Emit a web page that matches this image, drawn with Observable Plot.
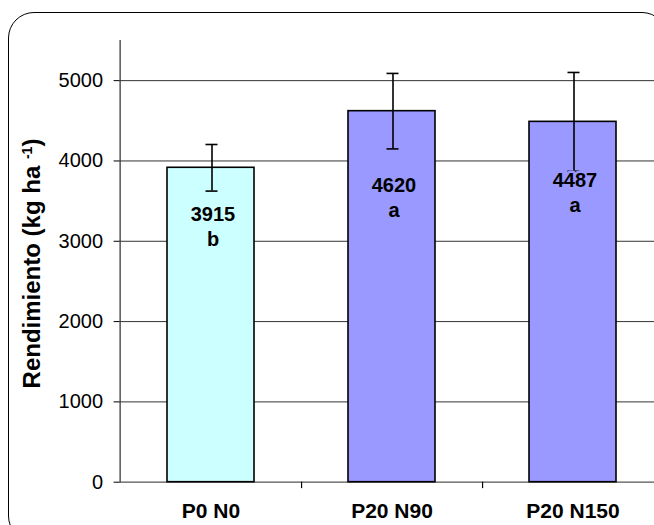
<!DOCTYPE html>
<html><head><meta charset="utf-8">
<script src="https://cdn.jsdelivr.net/npm/d3@7"></script>
<script src="https://cdn.jsdelivr.net/npm/@observablehq/plot@0.6"></script>
<style>
html,body{margin:0;padding:0;background:#fff;overflow:hidden;}
#wrap{position:relative;width:654px;height:525px;overflow:hidden;background:#fff;}
#frame{position:absolute;left:8px;top:12px;width:660px;height:530px;border:1.6px solid #000;border-radius:26px;box-sizing:border-box;}
#chart{position:absolute;left:0;top:0;width:663px;height:525px;}
#chart svg{max-width:none !important;}
</style></head><body>
<div id="wrap"><div id="frame"></div><div id="chart"></div></div>
<script>
// ---- data ----
const categories = ["P0 N0", "P20 N90", "P20 N150"];
const means = [3915, 4620, 4487];
const errors = [290, 470, 615];
const letters = ["b", "a", "a"];
const yTicks = [0, 1000, 2000, 3000, 4000, 5000];
const gridTicks = [1000, 2000, 3000, 4000, 5000];
const yTitle = "Rendimiento (kg ha ";
const yTitleSup = "-1";

const data = categories.map((c, i) => ({cat: c, mean: means[i], err: errors[i], letter: letters[i]}));

// layout
const W = 663, H = 525, mL = 119.6, mR = 0, mT = 40, mB = 43.3;
const step = (W - mL - mR) / categories.length;
// baseline (in kg/ha) of the letter line of each annotation
const letterBase = {"P0 N0": 2940, "P20 N90": 3300, "P20 N150": 3363};

const font = "'Liberation Sans', Arial, Helvetica, sans-serif";

const chart = Plot.plot({
  width: W, height: H,
  marginLeft: mL, marginRight: mR, marginTop: mT, marginBottom: mB,
  style: {fontFamily: font, fontSize: "20px", color: "#000", background: "transparent", overflow: "visible", maxWidth: "none"},
  x: {domain: categories, paddingInner: 0.52, paddingOuter: 0.26, label: null},
  y: {domain: [0, 5500], ticks: yTicks, tickFormat: d => String(d), tickSize: 6, tickPadding: 11, line: true, label: null},
  color: {domain: categories, range: ["#ccffff", "#9999ff", "#9999ff"]},
  marks: [
    Plot.ruleY(gridTicks, {stroke: "#333", strokeWidth: 1}),
    Plot.ruleY([0], {stroke: "#555", strokeWidth: 1.2}),
    Plot.ruleX(categories, {x: d => d, dx: step / 2, y1: 0, y2: -80, stroke: "#000", strokeWidth: 1.2}),
    Plot.barY(data, {x: "cat", y: "mean", fill: "cat", stroke: "#000", strokeWidth: 1.6}),
    Plot.ruleX(data, {x: "cat", dx: 1, y1: d => d.mean - d.err, y2: d => d.mean + d.err, stroke: "#000", strokeWidth: 1.6}),
    Plot.tickY(data, {x: "cat", dx: 1, y: d => d.mean + d.err, insetLeft: 37.5, insetRight: 37.5, stroke: "#000", strokeWidth: 1.6}),
    Plot.tickY(data, {x: "cat", dx: 1, y: d => d.mean - d.err, insetLeft: 37.5, insetRight: 37.5, stroke: "#000", strokeWidth: 1.6}),
    Plot.text(data, {x: "cat", y: d => letterBase[d.cat], text: d => d.mean + "\n" + d.letter,
      lineAnchor: "bottom", lineHeight: 1.25, fontSize: 20, fontWeight: "bold", fill: "#000",
      stroke: "cat", strokeWidth: 5, dx: 2}),
    Plot.axisX({tickSize: 0, tickPadding: 21, fontSize: 21, fontWeight: "bold", label: null})
  ]
});
document.getElementById("chart").appendChild(chart);

// rotated y-axis title with superscript
const svg = d3.select(chart.tagName.toLowerCase() === "svg" ? chart : chart.querySelector("svg"));
const t = svg.append("text")
  .attr("transform", "translate(40,263.5) rotate(-90)")
  .attr("text-anchor", "middle")
  .attr("font-family", font)
  .attr("font-size", 24)
  .attr("font-weight", "bold")
  .attr("fill", "#000");
t.append("tspan").text(yTitle);
t.append("tspan").attr("font-size", 14).attr("dy", -8).text(yTitleSup);
t.append("tspan").attr("dy", 8).text(")");
</script>
</body></html>
